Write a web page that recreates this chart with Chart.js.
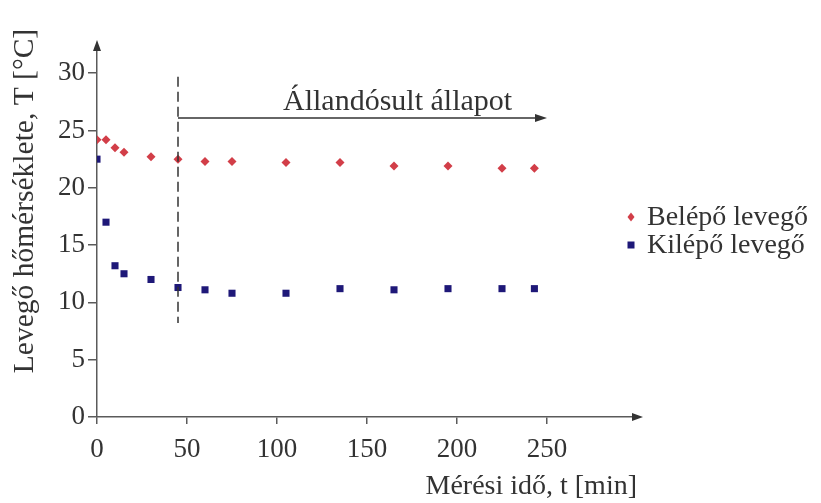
<!DOCTYPE html>
<html>
<head>
<meta charset="utf-8">
<script src="https://cdn.jsdelivr.net/npm/chart.js@4/dist/chart.umd.min.js"></script>
<style>
  html, body { margin: 0; padding: 0; background: #fff; }
  #wrap { width: 821px; height: 503px; }
</style>
</head>
<body>
<div id="wrap"><canvas id="myChart" width="821" height="503"></canvas></div>
<script>
// Adatok (mérési idő, percben)
const times = [0, 5, 10, 15, 30, 45, 60, 75, 105, 135, 165, 195, 225, 243]
const belepo = [24.2, 24.2, 23.5, 23.1, 22.7, 22.5, 22.3, 22.3, 22.2, 22.2, 21.9, 21.9, 21.7, 21.7]
const kilepo = [22.5, 17.0, 13.2, 12.5, 12.0, 11.3, 11.1, 10.8, 10.8, 11.2, 11.1, 11.2, 11.2, 11.2]
const seriesLabels = ['Belépő levegő', 'Kilépő levegő']
const xTicks = [0, 50, 100, 150, 200, 250]
const yTicks = [0, 5, 10, 15, 20, 25, 30]
const xTitle = 'Mérési idő, t [min]'
const yTitle = 'Levegő hőmérséklete, T [°C]'
const steadyLabel = 'Állandósult állapot'
const steadyStart = 45
const steadyEnd = 250
const steadyY = 26.1

const FONT = "'Liberation Serif', 'DejaVu Serif', serif"
const TEXT = '#333'
const AXIS = '#5a5a5a'
const RED = 'rgb(210, 62, 72)'
const BLUE = 'rgb(30, 24, 120)'

const toPoints = ys => times.map((t, i) => ({x: t, y: ys[i]}))

// Filled arrowhead pointing along (dx, dy)
const arrowHead = (ctx, x, y, dx, dy, len, half) => {
  const px = -dy, py = dx
  ctx.beginPath()
  ctx.moveTo(x, y)
  ctx.lineTo(x - dx * len + px * half, y - dy * len + py * half)
  ctx.lineTo(x - dx * len - px * half, y - dy * len - py * half)
  ctx.closePath()
  ctx.fill()
}

// Annotations: axis arrows, steady state marker, y title, legend
const extras = {
  id: 'extras',
  afterDraw: chart => {
    const {ctx, chartArea, scales: {x, y}} = chart
    ctx.save()

    // axis arrows
    ctx.fillStyle = '#333'
    ctx.strokeStyle = AXIS
    ctx.lineWidth = 1.5
    ctx.beginPath()
    ctx.moveTo(chartArea.left, chartArea.top)
    ctx.lineTo(chartArea.left, chartArea.top - 4)
    ctx.moveTo(chartArea.right, chartArea.bottom)
    ctx.lineTo(chartArea.right + 2, chartArea.bottom)
    ctx.stroke()
    arrowHead(ctx, chartArea.left, chartArea.top - 8, 0, -1, 11, 4)
    arrowHead(ctx, chartArea.right + 6, chartArea.bottom, 1, 0, 11, 4)

    // dashed vertical line
    const xs = x.getPixelForValue(steadyStart)
    ctx.strokeStyle = '#333'
    ctx.lineWidth = 1.5
    ctx.setLineDash([10, 5])
    ctx.beginPath()
    ctx.moveTo(xs, y.getPixelForValue(29.7))
    ctx.lineTo(xs, y.getPixelForValue(8.2))
    ctx.stroke()
    ctx.setLineDash([])

    // horizontal arrow
    const ya = y.getPixelForValue(steadyY)
    const xe = x.getPixelForValue(steadyEnd)
    ctx.beginPath()
    ctx.moveTo(xs, ya)
    ctx.lineTo(xe - 6, ya)
    ctx.stroke()
    arrowHead(ctx, xe, ya, 1, 0, 12, 4)

    ctx.fillStyle = TEXT
    ctx.font = `30px ${FONT}`
    ctx.textAlign = 'left'
    ctx.textBaseline = 'alphabetic'
    ctx.fillText(steadyLabel, 283, 110)

    // y axis title
    ctx.save()
    ctx.font = `29.5px ${FONT}`
    ctx.translate(25, 201)
    ctx.rotate(-Math.PI / 2)
    ctx.textAlign = 'center'
    ctx.textBaseline = 'middle'
    ctx.fillText(yTitle, 0, 0)
    ctx.restore()

    // legend
    const rows = [217, 245]
    ctx.font = `28px ${FONT}`
    chart.data.datasets.forEach((ds, i) => {
      const cy = rows[i]
      ctx.fillStyle = ds.pointBackgroundColor
      if (ds.pointStyle === 'rectRot') {
        ctx.beginPath()
        ctx.moveTo(631, cy - 4.5)
        ctx.lineTo(634.5, cy)
        ctx.lineTo(631, cy + 4.5)
        ctx.lineTo(627.5, cy)
        ctx.closePath()
        ctx.fill()
      } else {
        ctx.fillRect(627.5, cy - 3.5, 7, 7)
      }
      ctx.fillStyle = TEXT
      ctx.textAlign = 'left'
      ctx.textBaseline = 'middle'
      ctx.fillText(ds.label, 647, cy + 1)
    })

    ctx.restore()
  }
}

const data = {
  datasets: [
    {
      label: seriesLabels[0],
      data: toPoints(belepo),
      pointStyle: 'rectRot',
      pointRadius: 4.5,
      pointBackgroundColor: RED,
      pointBorderWidth: 0,
      showLine: false
    },
    {
      label: seriesLabels[1],
      data: toPoints(kilepo),
      pointStyle: 'rect',
      pointRadius: 5,
      pointBackgroundColor: BLUE,
      pointBorderWidth: 0,
      showLine: false
    }
  ]
}

const config = {
  type: 'scatter',
  data: data,
  options: {
    responsive: false,
    animation: false,
    events: [],
    layout: {padding: {left: 0, top: 48, right: 184, bottom: 0}},
    plugins: {
      legend: {display: false},
      tooltip: {enabled: false}
    },
    scales: {
      x: {
        type: 'linear',
        min: 0,
        max: 300,
        afterFit: s => { s.height = 86 },
        afterBuildTicks: s => { s.ticks = xTicks.map(v => ({value: v})) },
        border: {display: true, color: AXIS, width: 1.5},
        grid: {display: true, drawOnChartArea: false, drawTicks: true, tickLength: 7, color: AXIS, lineWidth: 1.5},
        ticks: {padding: 10, color: TEXT, font: {family: FONT, size: 27}},
        title: {display: true, text: xTitle, align: 'end', color: TEXT, padding: 0, font: {family: FONT, size: 28}}
      },
      y: {
        min: 0,
        max: 32.2,
        afterFit: s => { s.width = 97 },
        afterBuildTicks: s => { s.ticks = yTicks.map(v => ({value: v})) },
        border: {display: true, color: AXIS, width: 1.5},
        grid: {display: true, drawOnChartArea: false, drawTicks: true, tickLength: 9, color: AXIS, lineWidth: 1.5},
        ticks: {padding: 3, color: TEXT, font: {family: FONT, size: 27}}
      }
    }
  },
  plugins: [extras]
}

const myChart = new Chart(document.getElementById('myChart'), config)
</script>
</body>
</html>
